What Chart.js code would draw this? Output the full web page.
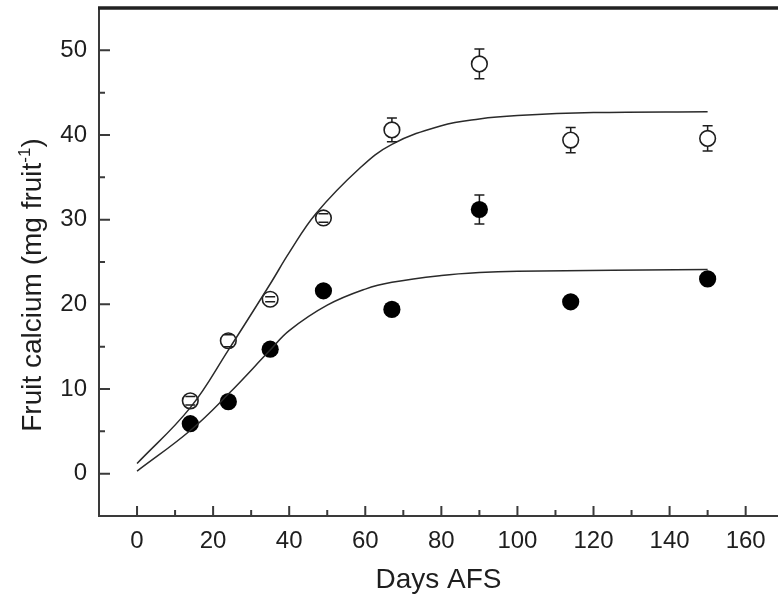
<!DOCTYPE html>
<html>
<head>
<meta charset="utf-8">
<script src="https://cdn.jsdelivr.net/npm/chart.js@4"></script>
<style>
  html, body { margin: 0; padding: 0; background: #fff; }
  #wrap { width: 778px; height: 598px; }
</style>
</head>
<body>
<div id="wrap"><canvas id="calcium" width="778" height="598"></canvas></div>
<script>
// sampling days (after full bloom)
const days = [14, 24, 35, 49, 67, 90, 114, 150];

// open circles and their error bars
const openValues = [8.6, 15.7, 20.6, 30.2, 40.6, 48.4, 39.4, 39.6];
const openErr = [0.5, 0.7, 0.3, 0.5, 1.4, 1.75, 1.5, 1.5];

// filled circles and their error bars
const filledValues = [5.9, 8.5, 14.7, 21.6, 19.4, 31.2, 20.3, 23.0];
const filledErr = [0.3, 0.3, 0.4, 0.5, 0.4, 1.7, 0.4, 0.4];

// fitted curves
const openFitDays = [0, 14, 24, 35, 40, 47, 58.6, 67, 80, 90, 100, 120, 150];
const openFit = [1.2, 7.8, 14.6, 22.4, 26.1, 30.7, 36.1, 38.9, 41.1, 41.9, 42.3, 42.65, 42.75];
const filledFitDays = [0, 14, 24, 35, 40, 50, 60, 67, 80, 90, 100, 150];
const filledFit = [0.3, 5.1, 9.4, 14.6, 16.9, 19.9, 21.8, 22.6, 23.4, 23.75, 23.9, 24.1];

// axis ticks
const xTicks = [0, 20, 40, 60, 80, 100, 120, 140, 160];
const xMinor = [10, 30, 50, 70, 90, 110, 130, 150];
const yTicks = [0, 10, 20, 30, 40, 50];
const yMinor = [5, 15, 25, 35, 45];

const FONT = "'Liberation Sans', Arial, Helvetica, sans-serif";
const INK = '#1e1e1e';
const AXIS = '#3a3a3a';

function pts(xs, ys) {
    return xs.map((x, i) => ({ x: x, y: ys[i] }));
}

function drawBars(chart, vals, errs, stems, caps) {
    const ctx = chart.ctx;
    const xs = chart.scales.x, ys = chart.scales.y;
    ctx.save();
    ctx.strokeStyle = INK;
    ctx.lineWidth = 1.5;
    ctx.beginPath();
    vals.forEach((v, i) => {
        const px = xs.getPixelForValue(days[i]);
        const top = ys.getPixelForValue(v + errs[i]);
        const bot = ys.getPixelForValue(v - errs[i]);
        if (stems) {
            ctx.moveTo(px, top);
            ctx.lineTo(px, bot);
        }
        if (caps) {
            ctx.moveTo(px - 5, top);
            ctx.lineTo(px + 5, top);
            ctx.moveTo(px - 5, bot);
            ctx.lineTo(px + 5, bot);
        }
    });
    ctx.stroke();
    ctx.restore();
}

// error bars: filled ones go fully under the markers, open ones keep caps on top
const errorBars = {
    id: 'errorBars',
    beforeDatasetsDraw(chart) {
        drawBars(chart, filledValues, filledErr, true, true);
        drawBars(chart, openValues, openErr, true, false);
    },
    afterDatasetsDraw(chart) {
        drawBars(chart, openValues, openErr, false, true);
    }
};

// inward tick marks, top frame line and the y title with its superscript
const frame = {
    id: 'frame',
    afterDraw(chart) {
        const ctx = chart.ctx;
        const a = chart.chartArea;
        const xs = chart.scales.x, ys = chart.scales.y;
        ctx.save();
        ctx.strokeStyle = AXIS;
        ctx.lineWidth = 2;
        ctx.beginPath();
        xTicks.forEach(v => { const p = xs.getPixelForValue(v); ctx.moveTo(p, a.bottom); ctx.lineTo(p, a.bottom - 10); });
        xMinor.forEach(v => { const p = xs.getPixelForValue(v); ctx.moveTo(p, a.bottom); ctx.lineTo(p, a.bottom - 6); });
        yTicks.forEach(v => { const p = ys.getPixelForValue(v); ctx.moveTo(a.left, p); ctx.lineTo(a.left + 11, p); });
        yMinor.forEach(v => { const p = ys.getPixelForValue(v); ctx.moveTo(a.left, p); ctx.lineTo(a.left + 6, p); });
        ctx.stroke();

        ctx.strokeStyle = '#222';
        ctx.lineWidth = 3.5;
        ctx.beginPath();
        ctx.moveTo(a.left - 1, a.top);
        ctx.lineTo(a.right, a.top);
        ctx.stroke();

        // y title
        const main = 'Fruit calcium (mg fruit';
        const sup = '-1';
        const tail = ')';
        ctx.fillStyle = INK;
        ctx.textBaseline = 'alphabetic';
        ctx.textAlign = 'left';
        ctx.font = '28px ' + FONT;
        const w1 = ctx.measureText(main).width;
        const w3 = ctx.measureText(tail).width;
        ctx.font = '17px ' + FONT;
        const w2 = ctx.measureText(sup).width;
        const total = w1 + w2 + w3;
        ctx.translate(41, 285 + total / 2);
        ctx.rotate(-Math.PI / 2);
        ctx.font = '28px ' + FONT;
        ctx.fillText(main, 0, 0);
        ctx.font = '17px ' + FONT;
        ctx.fillText(sup, w1, -11);
        ctx.font = '28px ' + FONT;
        ctx.fillText(tail, w1 + w2, 0);
        ctx.restore();
    }
};

new Chart(document.getElementById('calcium').getContext('2d'), {
    type: 'scatter',
    data: {
        datasets: [
            {
                label: 'open fit',
                data: pts(openFitDays, openFit),
                showLine: true,
                pointRadius: 0,
                borderColor: '#2a2a2a',
                borderWidth: 1.5,
                tension: 0.4
            },
            {
                label: 'filled fit',
                data: pts(filledFitDays, filledFit),
                showLine: true,
                pointRadius: 0,
                borderColor: '#2a2a2a',
                borderWidth: 1.5,
                tension: 0.4
            },
            {
                label: 'open',
                data: pts(days, openValues),
                pointRadius: 7.8,
                pointBackgroundColor: '#fff',
                pointBorderColor: INK,
                pointBorderWidth: 1.6
            },
            {
                label: 'filled',
                data: pts(days, filledValues),
                pointRadius: 8.6,
                pointBackgroundColor: '#000',
                pointBorderColor: '#000',
                pointBorderWidth: 0
            }
        ]
    },
    options: {
        responsive: false,
        animation: false,
        events: [],
        layout: { autoPadding: false, padding: { top: 8, left: 0, right: 0, bottom: 0 } },
        plugins: {
            legend: { display: false },
            tooltip: { enabled: false }
        },
        scales: {
            x: {
                type: 'linear',
                min: -10,
                max: 168.5,
                afterBuildTicks: s => { s.ticks = xTicks.map(v => ({ value: v })); },
                afterFit: s => { s.height = 82; s.paddingLeft = 0; s.paddingRight = 0; },
                grid: { display: false, drawTicks: false },
                border: { display: true, color: AXIS, width: 2 },
                ticks: { color: INK, padding: 11, maxRotation: 0, font: { family: FONT, size: 24 } },
                title: {
                    display: true,
                    text: 'Days AFS',
                    color: INK,
                    font: { family: FONT, size: 28 },
                    padding: { top: 0, bottom: 1 }
                }
            },
            y: {
                type: 'linear',
                min: -5,
                max: 55,
                afterBuildTicks: s => { s.ticks = yTicks.map(v => ({ value: v })); },
                afterFit: s => { s.width = 99; s.paddingTop = 0; s.paddingBottom = 0; },
                grid: { display: false, drawTicks: false },
                border: { display: true, color: AXIS, width: 2 },
                ticks: { color: INK, padding: 12, font: { family: FONT, size: 24 } },
                title: { display: false }
            }
        }
    },
    plugins: [errorBars, frame]
});
</script>
</body>
</html>
